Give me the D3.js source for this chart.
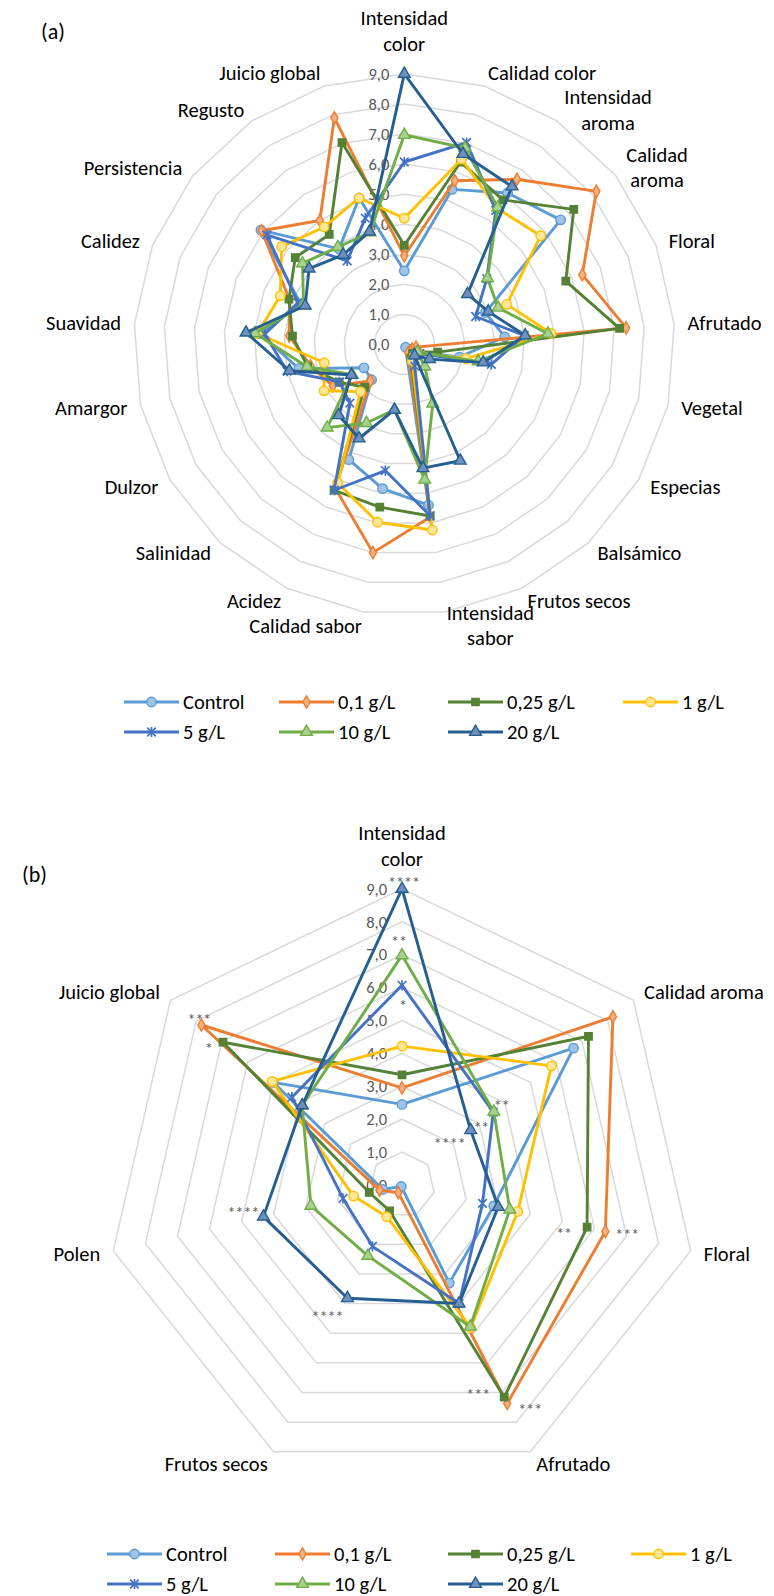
<!DOCTYPE html>
<html>
<head>
<meta charset="utf-8">
<script src="https://cdn.jsdelivr.net/npm/d3@7"></script>
<style>
  html, body { margin: 0; padding: 0; background: #ffffff; }
  svg { display: block; font-family: Carlito, Lato, "Open Sans", sans-serif; }
</style>
</head>
<body>
<svg id="chart" width="774" height="1596"></svg>
<script>
// ---- Panel (a): full sensory profile ----
const attributesA = [
  "Intensidad\ncolor", "Calidad color", "Intensidad\naroma", "Calidad\naroma", "Floral",
  "Afrutado", "Vegetal", "Especias", "Balsámico", "Frutos secos", "Intensidad\nsabor",
  "Calidad sabor", "Acidez", "Salinidad", "Dulzor", "Amargor", "Suavidad", "Calidez",
  "Persistencia", "Regusto", "Juicio global"
];
const aControl = [2.45, 5.4, 6.1, 6.65, 2.9, 3.35, 1.88, 0.45, 0.3, 0.1, 5.4, 4.85, 4.25, 1.6, 1.55, 3.6, 4.8, 3.7, 6.1, 3.85, 5.1];
const aDose01  = [2.95, 5.7, 6.65, 8.17, 6.36, 7.4, 0.4, 0.3, 0.3, 0.3, 5.8, 7.0, 5.3, 1.65, 2.75, 3.2, 3.84, 4.1, 6.07, 4.99, 7.89];
const aDose025 = [3.3, 6.35, 5.82, 7.21, 5.77, 7.18, 1.14, 0.5, 0.4, 0.5, 5.77, 5.47, 5.38, 1.94, 2.5, 3.3, 3.73, 4.12, 4.64, 4.43, 7.03];
const aDose1   = [4.2, 6.45, 5.48, 5.8, 3.66, 4.9, 2.1, 0.6, 0.5, 0.6, 6.24, 5.98, 5.11, 2.14, 3.08, 2.73, 4.9, 4.43, 5.22, 4.73, 5.1];
const aDose5   = [6.07, 7.03, 5.4, 3.51, 2.55, 4.0, 2.97, 0.6, 0.5, 0.8, 5.76, 4.24, 5.38, 2.66, 2.49, 4.0, 4.65, 3.8, 5.85, 3.37, 4.4];
const aDose10  = [6.97, 6.84, 5.52, 3.54, 3.35, 4.79, 2.52, 0.5, 1.0, 2.18, 4.55, 2.2, 2.9, 3.77, 2.0, 3.32, 4.98, 3.6, 4.33, 3.92, 3.9];
const aDose20  = [9.0, 6.63, 6.36, 2.69, 3.0, 4.03, 2.69, 0.97, 0.5, 4.29, 4.16, 2.2, 3.47, 3.21, 2.03, 3.92, 5.28, 3.54, 4.05, 3.61, 3.93];

// ---- Panel (b): attributes with significant differences ----
const attributesB = ["Intensidad\ncolor", "Calidad aroma", "Floral", "Afrutado", "Frutos secos", "Polen", "Juicio global"];
const bControl = [2.45, 6.67, 2.86, 3.31, 0.05, 0.6, 5.0];
const bDose01  = [2.95, 8.2, 6.34, 7.37, 0.26, 0.7, 7.8];
const bDose025 = [3.35, 7.25, 5.77, 7.16, 0.87, 1.02, 6.96];
const bDose1   = [4.22, 5.81, 3.61, 4.81, 1.07, 1.51, 5.05];
const bDose5   = [6.07, 3.55, 2.51, 4.0, 2.07, 1.84, 4.28];
const bDose10  = [6.98, 3.57, 3.36, 4.78, 2.39, 2.84, 3.88];
const bDose20  = [9.0, 2.67, 3.0, 4.0, 3.82, 4.32, 3.88];

// Significance stars in panel (b): attribute index, series index, text
const sigAxis   = [0, 0, 0, 1, 1, 1, 2, 2, 3, 3, 4, 5, 6, 6];
const sigSeries = [6, 5, 4, 5, 4, 6, 2, 1, 2, 1, 6, 6, 1, 2];
const sigText   = ["****", "**", "*", "**", "**", "****", "**", "***", "***", "***", "****", "****", "***", "*"];
// label offset from its point: [dx, dy, anchor]
const sigPlace  = [
  [2, -10, "middle"], [-3, -17, "middle"], [1, 17, "middle"],
  [0, -10, "start"], [-4, 12, "end"], [-5, 10, "end"],
  [-15, 3, "end"], [10, 0, "start"],
  [-14, -6, "end"], [11, 3, "start"],
  [-4, 15, "end"], [-4, -8, "end"], [-2, -9, "middle"], [-10, 3, "end"]
];

// ---- Shared series definitions ----
const seriesNames = ["Control", "0,1 g/L", "0,25 g/L", "1 g/L", "5 g/L", "10 g/L", "20 g/L"];
const seriesColors = ["#5B9BD5", "#ED7D31", "#548235", "#FFC000", "#4472C4", "#70AD47", "#255E91"];
const markerFills  = ["#9DC3E6", "#F4B183", "#548235", "#FFE699", "#4472C4", "#A9D18E", "#6F90BD"];
const markerShapes = ["circle", "diamond", "square", "circle", "star", "triangle", "triangle"];
const tickValues = [0, 1, 2, 3, 4, 5, 6, 7, 8, 9];
const tickLabels = ["0,0", "1,0", "2,0", "3,0", "4,0", "5,0", "6,0", "7,0", "8,0", "9,0"];

const seriesA = [aControl, aDose01, aDose025, aDose1, aDose5, aDose10, aDose20];
const seriesB = [bControl, bDose01, bDose025, bDose1, bDose5, bDose10, bDose20];

const svg = d3.select("#chart");
const LABEL_FONT = 20.5;
const LINE_H = 25.5;

function markerPath(shape) {
  if (shape === "circle") return d3.symbol(d3.symbolCircle, 70)();
  if (shape === "diamond") return d3.symbol(d3.symbolDiamond, 44)();
  if (shape === "square") return d3.symbol(d3.symbolSquare, 54)();
  if (shape === "triangle") return d3.symbol(d3.symbolTriangle, 60)();
  // asterisk-like star
  const s = 4.3;
  return `M${-s},${-s}L${s},${s}M${-s},${s}L${s},${-s}M0,${-s - 0.8}L0,${s + 0.8}`;
}

function drawMarker(g, i, x, y) {
  const shape = markerShapes[i];
  const p = g.append("path")
    .attr("d", markerPath(shape))
    .attr("transform", `translate(${x},${y})`);
  if (shape === "star") {
    p.attr("fill", "none").attr("stroke", seriesColors[i]).attr("stroke-width", 1.7);
  } else {
    p.attr("fill", markerFills[i]).attr("stroke", seriesColors[i]).attr("stroke-width", 1.4);
  }
}

function drawRadar(cfg) {
  const { cx, cy, R, attributes, series } = cfg;
  const n = attributes.length;
  const g = svg.append("g");
  const r = d3.scaleLinear().domain([0, 9]).range([0, R]);
  const angle = d3.scaleLinear().domain([0, n]).range([0, 2 * Math.PI]);
  const pt = (k, v) => [cx + r(v) * Math.sin(angle(k)), cy - r(v) * Math.cos(angle(k))];

  // grid rings
  const ring = d3.line().curve(d3.curveLinearClosed);
  tickValues.filter(v => v > 0).forEach(v => {
    g.append("path")
      .attr("d", ring(d3.range(n).map(k => pt(k, v))))
      .attr("fill", "none")
      .attr("stroke", "#D9D9D9")
      .attr("stroke-width", 1.5);
  });

  // value labels along the first axis
  tickValues.forEach((v, i) => {
    g.append("text")
      .attr("x", cx - 15)
      .attr("y", cy - r(v))
      .attr("dy", "0.35em")
      .attr("text-anchor", "end")
      .attr("font-size", 16.5)
      .attr("fill", "#595959")
      .text(tickLabels[i]);
  });

  // attribute labels
  const gap = 13.4;
  attributes.forEach((lab, k) => {
    const a = angle(k);
    const s = Math.sin(a), c = Math.cos(a);
    const px = cx + (R + gap) * s, py = cy - (R + gap) * c;
    const lines = lab.split("\n");
    const t = g.append("text").attr("font-size", LABEL_FONT).attr("fill", "#000").attr("text-anchor", "middle");
    const spans = lines.map(ln => t.append("tspan").text(ln));
    const w = d3.max(spans, sp => sp.node().getComputedTextLength());
    const H = lines.length * LINE_H;
    let bx, by;
    if (Math.abs(s) < 0.01) {
      bx = px;
      by = c > 0 ? py - 4 - H / 2 : py + H / 2;
    } else {
      bx = s > 0 ? px + w / 2 : px - w / 2;
      by = py;
    }
    spans.forEach((sp, j) => {
      sp.attr("x", bx).attr("y", by - H / 2 + LINE_H * (j + 0.5)).attr("dy", "0.35em");
    });
  });

  // series: closed line then markers
  const line = d3.line().curve(d3.curveLinearClosed);
  series.forEach((vals, i) => {
    const pts = vals.map((v, k) => pt(k, v));
    g.append("path")
      .attr("d", line(pts))
      .attr("fill", "none")
      .attr("stroke", seriesColors[i])
      .attr("stroke-width", 2.9)
      .attr("stroke-linejoin", "round");
    pts.forEach(p => drawMarker(g, i, p[0], p[1]));
  });

  return { g, pt };
}

function drawLegend(colX, rowY) {
  const g = svg.append("g");
  seriesNames.forEach((name, i) => {
    const x = colX[i % 4], y = rowY[Math.floor(i / 4)];
    g.append("line")
      .attr("x1", x).attr("x2", x + 55).attr("y1", y).attr("y2", y)
      .attr("stroke", seriesColors[i]).attr("stroke-width", 2.9);
    drawMarker(g, i, x + 27.5, y);
    g.append("text")
      .attr("x", x + 59).attr("y", y).attr("dy", "0.35em")
      .attr("font-size", LABEL_FONT).attr("fill", "#000")
      .text(name);
  });
}

// Panel (a)
svg.append("text").attr("x", 41).attr("y", 31).attr("dy", "0.35em")
  .attr("font-size", 22).attr("fill", "#000").text("(a)");
drawRadar({ cx: 404.3, cy: 344.5, R: 270.6, attributes: attributesA, series: seriesA });
drawLegend([124, 279, 448, 623], [702, 732]);

// Panel (b)
svg.append("text").attr("x", 22).attr("y", 874).attr("dy", "0.35em")
  .attr("font-size", 22).attr("fill", "#000").text("(b)");
const panelB = drawRadar({ cx: 402, cy: 1185, R: 296.1, attributes: attributesB, series: seriesB });
sigAxis.forEach((k, j) => {
  const si = sigSeries[j];
  const p = panelB.pt(k, seriesB[si][k]);
  const [dx, dy, anchor] = sigPlace[j];
  panelB.g.append("text")
    .attr("x", p[0] + dx)
    .attr("y", p[1] + dy + 9)
    .attr("text-anchor", anchor)
    .attr("font-size", 16)
    .attr("fill", "#595959")
    .text(sigText[j]);
});
drawLegend([107, 275, 448, 631], [1554, 1584]);
</script>
</body>
</html>
